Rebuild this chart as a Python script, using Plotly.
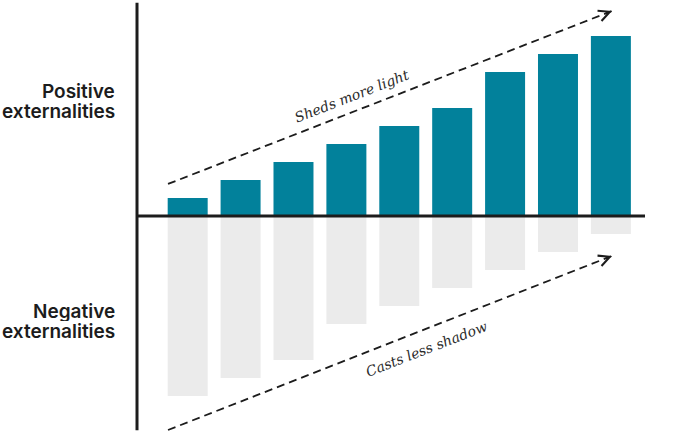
import plotly.graph_objects as go

# nine cases, benefit above the line, harm below
cases = list(range(9))
positive = [1, 2, 3, 4, 5, 6, 8, 9, 10]
negative = [-10, -9, -8, -6, -5, -4, -3, -2, -1]
side_labels = [("Positive", "externalities"), ("Negative", "externalities")]

TEAL = "#02819b"
GREY = "#ebebeb"
INK = "#1c1c1c"

fig = go.Figure()
fig.add_trace(go.Bar(x=cases, y=negative, marker=dict(color=GREY, line=dict(width=0)), width=0.756))
fig.add_trace(go.Bar(x=cases, y=positive, marker=dict(color=TEAL, line=dict(width=0)), width=0.756))

# axis lines
fig.add_shape(type="line", x0=-0.958, x1=-0.958, y0=11.85, y1=-11.9,
              line=dict(color=INK, width=3))
fig.add_shape(type="line", x0=-0.958, x1=8.645, y0=0, y1=0,
              line=dict(color=INK, width=3))

# dashed trend arrows
dash = "8px,5px"
up_start, up_end = (-0.372, 1.78), (8.021, 11.39)
dn_start, dn_end = (-0.372, -11.89), (8.021, -2.22)
for s, e in [(up_start, up_end), (dn_start, dn_end)]:
    fig.add_shape(type="line", x0=s[0], y0=s[1], x1=e[0], y1=e[1],
                  line=dict(color=INK, width=1.8, dash=dash))
    fig.add_annotation(x=e[0], y=e[1], ax=e[0] - 0.15, ay=e[1] - 0.15 * 1.146,
                       xref="x", yref="y", axref="x", ayref="y", text="",
                       showarrow=True, arrowhead=5, arrowsize=1.2, arrowwidth=1.8,
                       arrowcolor=INK, standoff=0)

serif = dict(family="DejaVu Serif", size=14, color="#2a2a2a", style="italic")
fig.add_annotation(x=3.106, y=6.667, text="Sheds more light", showarrow=False,
                   textangle=-21.3, font=serif)
fig.add_annotation(x=4.505, y=-7.389, text="Casts less shadow", showarrow=False,
                   textangle=-21.3, font=serif)

# side labels, one annotation per line to keep the tight leading
sans = dict(family="Inter", size=19, color=INK, weight=600)
label_rows = [(6.944, 5.833), (-5.278, -6.389)]
for (first, second), (y1, y2) in zip(side_labels, label_rows):
    for txt, yy in [(first, y1), (second, y2)]:
        fig.add_annotation(x=116 / 685, xref="paper", y=yy, text=txt,
                           showarrow=False, xanchor="right", font=sans,
                           height=20, borderpad=0)

fig.update_xaxes(range=[-3.548, 9.401], visible=False, fixedrange=True)
fig.update_yaxes(range=[-12.056, 12], visible=False, fixedrange=True)
fig.update_layout(
    width=685,
    height=433,
    margin=dict(l=0, r=0, t=0, b=0),
    barmode="overlay",
    showlegend=False,
    paper_bgcolor="white",
    plot_bgcolor="white",
)

fig.write_html("out.html", config={"displayModeBar": False},
               post_script="document.body.style.margin='0';")
